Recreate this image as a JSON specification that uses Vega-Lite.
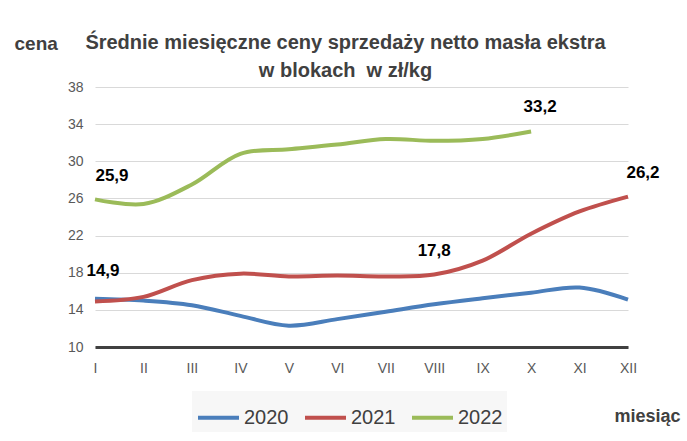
{
  "$schema": "https://vega.github.io/schema/vega-lite/v6.json",
  "autosize": "none",
  "width": 533,
  "height": 260,
  "padding": {"left": 95, "top": 87, "right": 59, "bottom": 94},
  "background": "white",
  "title": {
    "text": ["Średnie miesięczne ceny sprzedaży netto masła ekstra", "w blokach\u00a0 w zł/kg"],
    "anchor": "middle",
    "dx": -16,
    "offset": -47,
    "font": "Liberation Sans",
    "fontSize": 20,
    "fontWeight": "bold",
    "color": "#404040",
    "lineHeight": 28
  },
  "config": {
    "view": {"stroke": null},
    "font": "Liberation Sans"
  },
  "data": {
    "values": [
      {"month": "I", "year": "2020", "value": 15.2},
      {"month": "II", "year": "2020", "value": 15.0},
      {"month": "III", "year": "2020", "value": 14.5},
      {"month": "IV", "year": "2020", "value": 13.35},
      {"month": "V", "year": "2020", "value": 12.3},
      {"month": "VI", "year": "2020", "value": 13.0},
      {"month": "VII", "year": "2020", "value": 13.8},
      {"month": "VIII", "year": "2020", "value": 14.6},
      {"month": "IX", "year": "2020", "value": 15.25},
      {"month": "X", "year": "2020", "value": 15.85},
      {"month": "XI", "year": "2020", "value": 16.4},
      {"month": "XII", "year": "2020", "value": 15.1},
      {"month": "I", "year": "2021", "value": 14.9, "label": "14,9"},
      {"month": "II", "year": "2021", "value": 15.4},
      {"month": "III", "year": "2021", "value": 17.2},
      {"month": "IV", "year": "2021", "value": 17.9},
      {"month": "V", "year": "2021", "value": 17.6},
      {"month": "VI", "year": "2021", "value": 17.7},
      {"month": "VII", "year": "2021", "value": 17.6},
      {"month": "VIII", "year": "2021", "value": 17.8, "label": "17,8"},
      {"month": "IX", "year": "2021", "value": 19.3},
      {"month": "X", "year": "2021", "value": 22.2},
      {"month": "XI", "year": "2021", "value": 24.6},
      {"month": "XII", "year": "2021", "value": 26.2, "label": "26,2"},
      {"month": "I", "year": "2022", "value": 25.9, "label": "25,9"},
      {"month": "II", "year": "2022", "value": 25.4},
      {"month": "III", "year": "2022", "value": 27.5},
      {"month": "IV", "year": "2022", "value": 30.8},
      {"month": "V", "year": "2022", "value": 31.3},
      {"month": "VI", "year": "2022", "value": 31.8},
      {"month": "VII", "year": "2022", "value": 32.4},
      {"month": "VIII", "year": "2022", "value": 32.2},
      {"month": "IX", "year": "2022", "value": 32.4},
      {"month": "X", "year": "2022", "value": 33.2, "label": "33,2"}
    ]
  },
  "encoding": {
    "x": {
      "field": "month",
      "type": "ordinal",
      "sort": ["I","II","III","IV","V","VI","VII","VIII","IX","X","XI","XII"],
      "scale": {"type": "point", "padding": 0},
      "axis": {
        "title": "miesiąc",
        "titleX": 585,
        "titleY": 69,
        "titleAlign": "right",
        "titleBaseline": "middle",
        "titleFontSize": 18,
        "titleFontWeight": "bold",
        "titleColor": "#404040",
        "labelAngle": 0,
        "labelFontSize": 14,
        "labelColor": "#595959",
        "labelPadding": 14,
        "ticks": false,
        "domainColor": "#404040",
        "domainWidth": 3,
        "grid": false
      }
    },
    "y": {
      "field": "value",
      "type": "quantitative",
      "scale": {"domain": [10, 38], "nice": false, "zero": false},
      "axis": {
        "values": [10, 14, 18, 22, 26, 30, 34, 38],
        "title": "cena",
        "titleAngle": 0,
        "titleX": -81,
        "titleY": -44,
        "titleAlign": "left",
        "titleBaseline": "middle",
        "titleFontSize": 19,
        "titleFontWeight": "bold",
        "titleColor": "#404040",
        "labelFontSize": 14,
        "labelColor": "#595959",
        "labelPadding": 12,
        "ticks": false,
        "domain": false,
        "gridColor": "#d9d9d9",
        "gridWidth": 1.2
      }
    }
  },
  "layer": [
    {
      "mark": {"type": "line", "strokeWidth": 4, "interpolate": "catmull-rom"},
      "encoding": {
        "color": {
          "field": "year",
          "type": "nominal",
          "scale": {"domain": ["2020", "2021", "2022"], "range": ["#4a7ebb", "#c0504d", "#9bbb59"]},
          "legend": {
            "title": null,
            "orient": "none",
            "direction": "horizontal",
            "legendX": 97,
            "legendY": 304,
            "symbolType": "stroke",
            "symbolStrokeWidth": 4,
            "symbolSize": 1681,
            "labelFontSize": 20,
            "labelColor": "#404040",
            "labelOffset": 3,
            "columnPadding": 8,
            "fillColor": "#f7f7f7",
            "padding": 4
          }
        }
      }
    },
    {
      "transform": [{"filter": "datum.label == '25,9'"}],
      "mark": {"type": "text", "fontSize": 17, "fontWeight": "bold", "color": "black", "dx": 17, "dy": -23},
      "encoding": {"text": {"field": "label"}}
    },
    {
      "transform": [{"filter": "datum.label == '14,9'"}],
      "mark": {"type": "text", "fontSize": 17, "fontWeight": "bold", "color": "black", "dx": 8, "dy": -31},
      "encoding": {"text": {"field": "label"}}
    },
    {
      "transform": [{"filter": "datum.label == '17,8'"}],
      "mark": {"type": "text", "fontSize": 17, "fontWeight": "bold", "color": "black", "dx": 0, "dy": -24},
      "encoding": {"text": {"field": "label"}}
    },
    {
      "transform": [{"filter": "datum.label == '33,2'"}],
      "mark": {"type": "text", "fontSize": 17, "fontWeight": "bold", "color": "black", "dx": 9, "dy": -25},
      "encoding": {"text": {"field": "label"}}
    },
    {
      "transform": [{"filter": "datum.label == '26,2'"}],
      "mark": {"type": "text", "fontSize": 17, "fontWeight": "bold", "color": "black", "dx": 15, "dy": -24},
      "encoding": {"text": {"field": "label"}}
    }
  ]
}
